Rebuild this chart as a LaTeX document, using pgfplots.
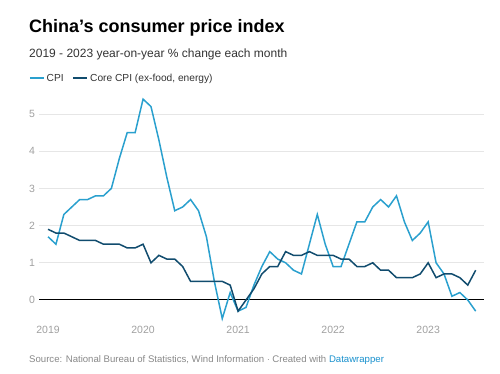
\documentclass[border=0pt]{standalone}
\usepackage{pgfplots}
\pgfplotsset{compat=1.18}
\usepackage{pgfplotstable}
\usepackage{fontspec}
\setmainfont{Liberation Sans}
\definecolor{cpi}{RGB}{42,160,206}
\definecolor{core}{RGB}{17,76,110}
\definecolor{ticklab}{RGB}{160,160,160}
\definecolor{gridc}{RGB}{230,230,230}
\definecolor{subt}{RGB}{51,51,51}
\definecolor{srcc}{RGB}{136,136,136}
\definecolor{dwblue}{RGB}{24,144,205}
\pgfplotstableread{
m cpi core
0 1.7 1.9
1 1.5 1.8
2 2.3 1.8
3 2.5 1.7
4 2.7 1.6
5 2.7 1.6
6 2.8 1.6
7 2.8 1.5
8 3.0 1.5
9 3.8 1.5
10 4.5 1.4
11 4.5 1.4
12 5.4 1.5
13 5.2 1.0
14 4.3 1.2
15 3.3 1.1
16 2.4 1.1
17 2.5 0.9
18 2.7 0.5
19 2.4 0.5
20 1.7 0.5
21 0.5 0.5
22 -0.5 0.5
23 0.2 0.4
24 -0.3 -0.3
25 -0.2 0.0
26 0.4 0.3
27 0.9 0.7
28 1.3 0.9
29 1.1 0.9
30 1.0 1.3
31 0.8 1.2
32 0.7 1.2
33 1.5 1.3
34 2.3 1.2
35 1.5 1.2
36 0.9 1.2
37 0.9 1.1
38 1.5 1.1
39 2.1 0.9
40 2.1 0.9
41 2.5 1.0
42 2.7 0.8
43 2.5 0.8
44 2.8 0.6
45 2.1 0.6
46 1.6 0.6
47 1.8 0.7
48 2.1 1.0
49 1.0 0.6
50 0.7 0.7
51 0.1 0.7
52 0.2 0.6
53 0.0 0.4
54 -0.3 0.8
}\datatable
\begin{document}
\begin{tikzpicture}
\useasboundingbox (0pt,0pt) rectangle (500pt,373pt);
\node[anchor=base west, inner sep=0pt, font=\fontsize{18}{20}\selectfont\bfseries] at (29pt,340pt) {China's consumer price index};
\node[anchor=base west, inner sep=0pt, text=subt, font=\fontsize{12}{14}\selectfont] at (29pt,316pt) {2019 - 2023 year-on-year \% change each month};
\node[anchor=west, inner sep=0pt, text=srcc, font=\fontsize{9.6}{11}\selectfont] at (29pt,12.5pt) {Source: National Bureau of Statistics, Wind Information $\cdot$ Created with \textcolor{dwblue}{Datawrapper}};
\begin{axis}[
  at={(39pt,50.7pt)}, anchor=south west,
  scale only axis, width=445pt, height=226.9pt,
  xmin=-1.14, xmax=55.05, ymin=-0.6, ymax=5.5,
  axis line style={draw=none}, tick style={draw=none},
  xtick={0,12,24,36,48}, xticklabels={2019,2020,2021,2022,2023},
  ytick={1,2,3,4,5},
  extra y ticks={0}, extra y tick style={grid style={black, line width=1pt}},
  ymajorgrids, grid style={gridc, line width=0.8pt},
  /pgf/number format/assume math mode=true,
  ticklabel style={text=ticklab, font=\fontsize{10.5}{12}\selectfont},
  xticklabel style={anchor=north, inner sep=0pt, yshift=-4pt},
  yticklabel style={anchor=west, inner sep=0pt, xshift=-10pt},
  legend style={at={(-0.0225,1.105)}, anchor=north west, draw=none, fill=none, inner sep=0pt,
    font=\fontsize{10.2}{12}\selectfont, text=subt, legend columns=-1,
    /tikz/every even column/.append style={column sep=7pt}},
  legend image code/.code={\draw[#1] (0pt,0pt) -- (14pt,0pt);},
]
\addplot[cpi, line width=1.5pt] table[x=m, y=cpi] {\datatable};
\addlegendentry{CPI}
\addplot[core, line width=1.5pt] table[x=m, y=core] {\datatable};
\addlegendentry{Core CPI (ex-food, energy)}
\end{axis}
\end{tikzpicture}
\end{document}
